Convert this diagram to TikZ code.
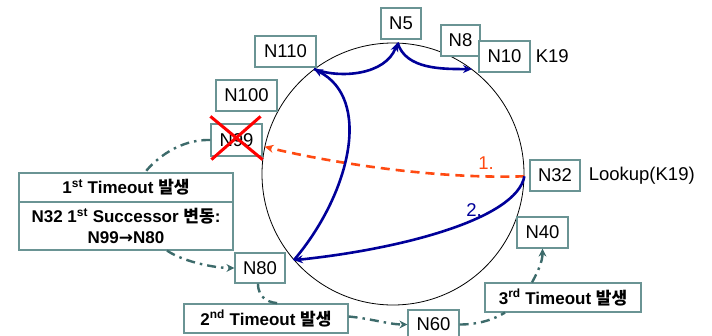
\documentclass[tikz,border=0pt]{standalone}
\usepackage{fontspec}
\setmainfont{Liberation Sans}
\newfontfamily\kr{Noto Sans CJK KR}
\newfontfamily\symfont{DejaVu Sans}
\usepackage{tikz}
\usetikzlibrary{positioning,arrows.meta}
\usepackage{xcolor}
\definecolor{ringblue}{HTML}{000099}
\definecolor{lookorange}{HTML}{FF4A12}
\definecolor{boxline}{HTML}{6A9494}
\definecolor{tealline}{HTML}{3D6B6B}
\newcommand{\ko}[1]{{\kr #1}}

\begin{document}
\begin{tikzpicture}[
  x=1pt, y=-1pt,
  box/.style={draw=boxline, line width=1.2pt, fill=white, minimum height=31pt, inner sep=0pt, font=\fontsize{18.5}{21}\selectfont},
  tbox/.style={draw=boxline, line width=1.2pt, fill=white, align=center, inner sep=0pt, font=\fontsize{17}{21}\selectfont\bfseries},
  lbl/.style={inner sep=0pt, font=\fontsize{18.5}{21}\selectfont},
  hop/.style={-{Stealth[length=9pt,width=8pt]}, line width=2.6pt, color=ringblue},
  tmo/.style={line width=2.4pt, color=tealline, dash pattern=on 9pt off 5pt on 2.5pt off 5pt},
  tmoarr/.style={tmo, -{Stealth[length=8pt,width=8pt]}}
]
\useasboundingbox (0,0) rectangle (712,335);

% ring
\node[draw, circle, minimum size=262pt, inner sep=0pt, line width=0.8pt] (ring) at (393,174) {};

% nodes on the ring
\node[box, minimum width=61pt] (n110) at (285.5,51.5) {N110};
\node[box, minimum width=61pt] (n100) at (246.5,95.5) {N100};
\node[box, minimum width=51pt, minimum height=32pt] (n99) at (236.5,140) {N99};
\node[box, minimum width=40pt] (n5) at (401,23.5) {N5};
\node[box, minimum width=39pt] (n8) at (460.5,40.5) {N8};
\node[box, minimum width=51pt] (n10) at (504.5,56.5) {N10};
\node[lbl, right=5pt of n10] (k19) {K19};
\node[box, minimum width=50pt] (n32) at (555,175.5) {N32};
\node[lbl, right=8pt of n32] (lookup) {Lookup(K19)};
\node[box, minimum width=51pt] (n40) at (542.5,232.5) {N40};
\node[box, minimum width=50pt, minimum height=30pt] (n80) at (260,268) {N80};
\node[box, minimum width=51pt, minimum height=29pt] (n60) at (433.5,324.5) {N60};

% timeout boxes
\node[tbox, minimum width=214pt, minimum height=29pt] (to1) at (126,187.5) {1\textsuperscript{st} Timeout \ko{발생}};
\node[tbox, minimum width=214pt, minimum height=48pt] (to1b) at (126,226) {N32 1\textsuperscript{st} Successor \ko{변동}:\\N99{\symfont →}N80};
\node[tbox, minimum width=164pt, minimum height=29pt] (to2) at (266,318.5) {2\textsuperscript{nd} Timeout \ko{발생}};
\node[tbox, minimum width=156pt, minimum height=29pt] (to3) at (563,297.5) {3\textsuperscript{rd} Timeout \ko{발생}};

% failed N99
\draw[red, line width=3pt] (n99.north west) ++(0,-7) -- ([yshift=-3pt]n99.south east);
\draw[red, line width=3pt] (n99.north east) ++(-2,-7) -- ([yshift=-3pt,xshift=1pt]n99.south west);

% 1. lookup to N99 times out
\draw[-{Stealth[length=9pt,width=8pt]}, line width=2.6pt, lookorange, dash pattern=on 9pt off 6pt]
  (ring.-1) .. controls +(-93,3) and +(62,15) .. (ring.168);
\node[lbl, text=lookorange] (one) at (486,163) {1.};

% 2. lookup via finger table
\draw[hop] (ring.-1) .. controls +(-8,43) and +(106,-11) .. (ring.221);
\draw[hop] (ring.221) .. controls +(56,-66) and +(59,30) .. (ring.127.5);
\draw[hop] (ring.127.5) .. controls +(27,10) and +(-12,32) .. (ring.88);
\draw[hop] (ring.88) .. controls +(8,27) and +(-29,0) .. (ring.53);
\node[lbl, text=ringblue] (two) at (474,210) {2.};

% successor list after timeouts
\draw[tmo] (n99.west) .. controls +(-31,-1) and +(10,-13) .. ([xshift=19pt]to1.north);
\draw[tmoarr] ([xshift=41pt]to1b.south) .. controls +(18,12) and +(-18,0) .. (n80.west);
\draw[tmo] ([xshift=-2pt]n80.south) .. controls +(0,15) and +(-13,0) .. ([xshift=16pt]to2.north);
\draw[tmoarr] ([yshift=2pt]to2.east) .. controls +(22,2) and +(-18,0) .. (n60.west);
\draw[tmo] (n60.east) .. controls +(21,0) and +(-10,6) .. ([xshift=-58pt]to3.south);
\draw[tmoarr] ([xshift=-31pt]to3.north) .. controls +(6,-11) and +(0,13) .. (n40.south);
\end{tikzpicture}
\end{document}
